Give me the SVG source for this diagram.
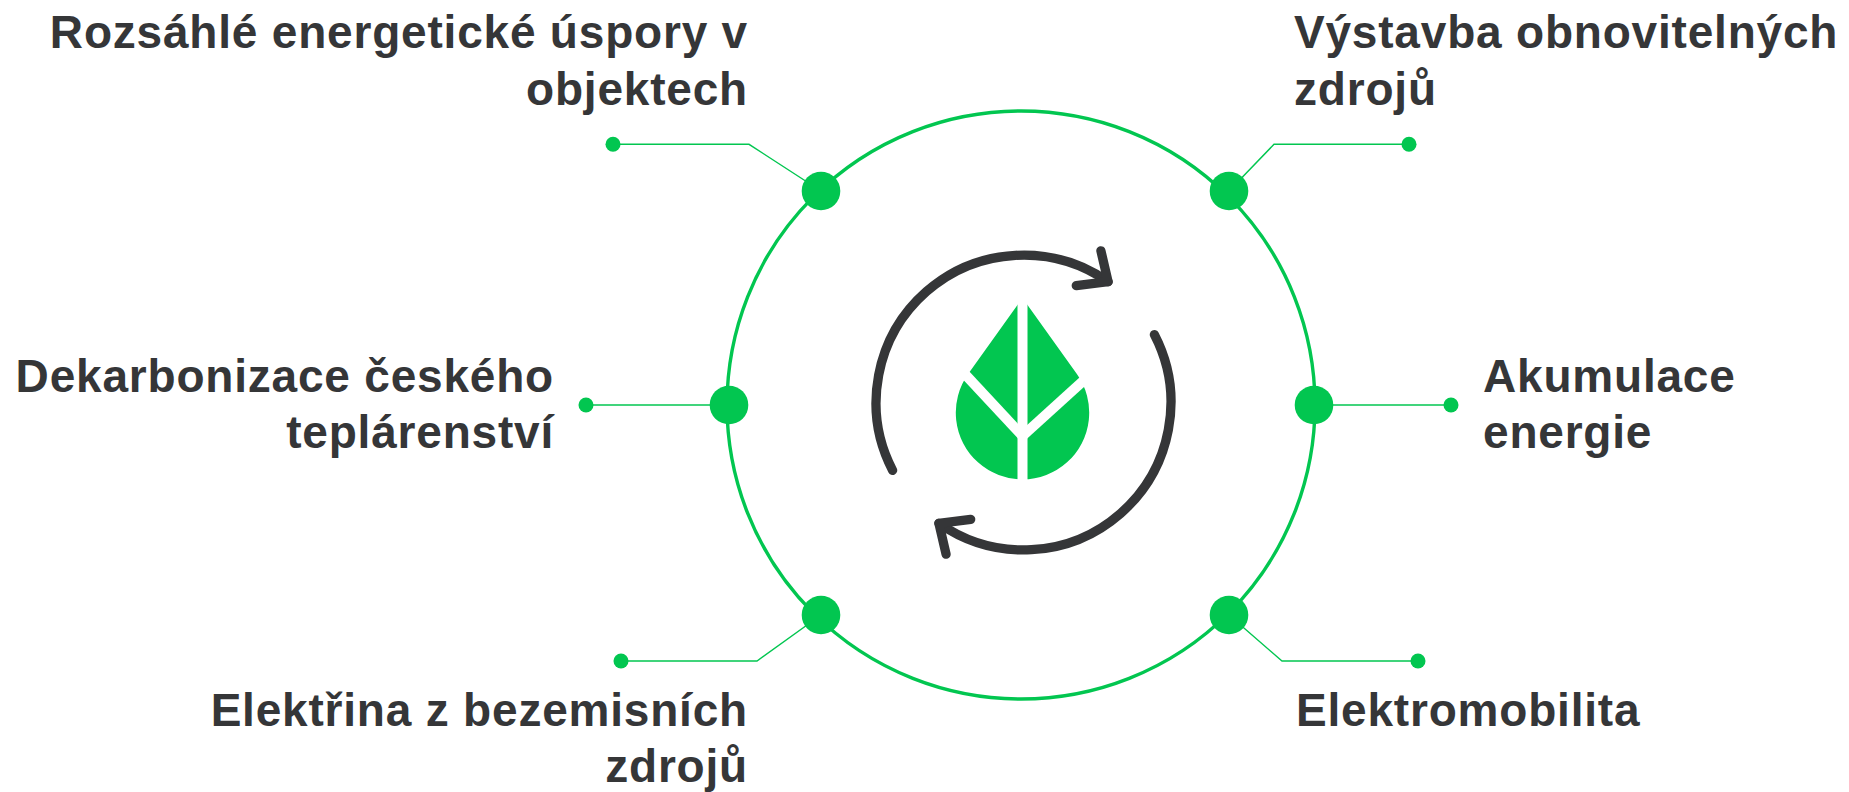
<svg xmlns="http://www.w3.org/2000/svg" width="1849" height="792" viewBox="0 0 1849 792">
  <style>
    .lbl { font-family: "Liberation Sans", Arial, Helvetica, sans-serif; font-weight: bold; font-size: 46px; letter-spacing: 0.8px; fill: #353638; }
    .end { text-anchor: end; }
    .ring { fill: none; stroke: #02C650; stroke-width: 3.4; }
    .conn { fill: none; stroke: #02C650; stroke-width: 1.4; }
    .node { fill: #02C650; }
    .arc { fill: none; stroke: #353638; stroke-width: 9.3; stroke-linecap: round; stroke-linejoin: round; }
    .cut { stroke: #ffffff; stroke-width: 10; fill: none; }
  </style>
  <rect width="1849" height="792" fill="#ffffff"/>

  <circle class="ring" cx="1021" cy="405" r="294"/>

  <g id="connectors">
    <polyline class="conn" points="821,191 749,144.3 613,144.3"/>
    <polyline class="conn" points="1229,191 1274,144.3 1409,144.3"/>
    <polyline class="conn" points="729,405 586,405"/>
    <polyline class="conn" points="1314,405 1451,405"/>
    <polyline class="conn" points="821,615 757,661 621,661"/>
    <polyline class="conn" points="1229,615 1282,661 1418,661"/>
  </g>

  <g id="icon">
    <path class="arc" d="M 892.6 470.4 A 147.5 147.5 0 0 1 1108.1 281.7"/>
    <polyline class="arc" points="1100.9,250.8 1108.1,281.7 1076.3,285.6"/>
    <path class="arc" d="M 1154.4 334.6 A 147.5 147.5 0 0 1 938.9 523.3"/>
    <polyline class="arc" points="946.1,554.2 938.9,523.3 970.7,519.4"/>
    <path fill="#02C650" d="M 1022.5 298 L 968.3 373.8 A 66.7 66.7 0 1 0 1076.7 373.8 Z"/>
    <line class="cut" x1="1022.5" y1="285" x2="1022.5" y2="490"/>
    <line class="cut" x1="1022.5" y1="436" x2="955" y2="363.5"/>
    <line class="cut" x1="1022.5" y1="436" x2="1090" y2="374.8"/>
  </g>

  <g id="node-uspory">
    <circle class="node" cx="821" cy="191" r="19.3"/>
    <circle class="node" cx="613" cy="144.3" r="7.5"/>
    <text class="lbl end" x="748" y="47.5">Rozsáhlé energetické úspory v</text>
    <text class="lbl end" x="748" y="104.5">objektech</text>
  </g>

  <g id="node-obnovitelne">
    <circle class="node" cx="1229" cy="191" r="19.3"/>
    <circle class="node" cx="1409" cy="144.3" r="7.5"/>
    <text class="lbl" x="1294" y="47.5">Výstavba obnovitelných</text>
    <text class="lbl" x="1294" y="104.5">zdrojů</text>
  </g>

  <g id="node-teplarenstvi">
    <circle class="node" cx="729" cy="405" r="19.3"/>
    <circle class="node" cx="586" cy="405" r="7.5"/>
    <text class="lbl end" x="554" y="391.5">Dekarbonizace českého</text>
    <text class="lbl end" x="554" y="447.5">teplárenství</text>
  </g>

  <g id="node-akumulace">
    <circle class="node" cx="1314" cy="405" r="19.3"/>
    <circle class="node" cx="1451" cy="405" r="7.5"/>
    <text class="lbl" x="1483" y="391.5">Akumulace</text>
    <text class="lbl" x="1483" y="447.5">energie</text>
  </g>

  <g id="node-elektrina">
    <circle class="node" cx="821" cy="615" r="19.3"/>
    <circle class="node" cx="621" cy="661" r="7.5"/>
    <text class="lbl end" x="748" y="726">Elektřina z bezemisních</text>
    <text class="lbl end" x="748" y="782">zdrojů</text>
  </g>

  <g id="node-elektromobilita">
    <circle class="node" cx="1229" cy="615" r="19.3"/>
    <circle class="node" cx="1418" cy="661" r="7.5"/>
    <text class="lbl" x="1296" y="726">Elektromobilita</text>
  </g>
</svg>
